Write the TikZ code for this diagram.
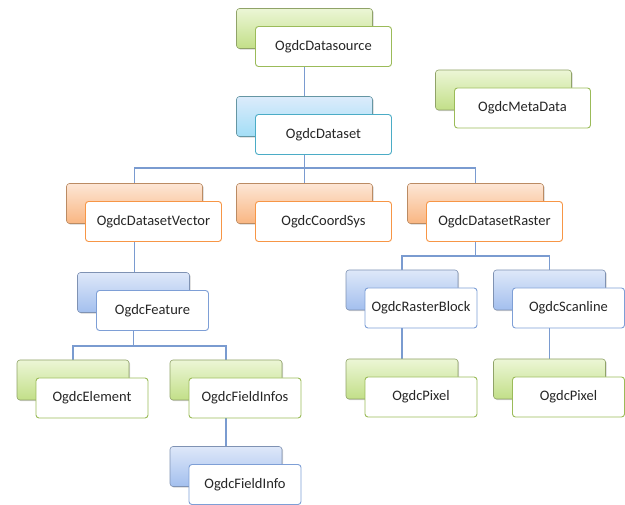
\documentclass[tikz,border=0pt]{standalone}
\usepackage{fontspec}
\setmainfont{Carlito}
\usetikzlibrary{shadows,backgrounds}
\definecolor{grTop}{HTML}{ECF6D6}
\definecolor{grBot}{HTML}{C2DF88}
\definecolor{grLine}{HTML}{9BBB59}
\definecolor{aqTop}{HTML}{DCEBFB}
\definecolor{aqBot}{HTML}{A2DEF6}
\definecolor{aqLine}{HTML}{4BACC6}
\definecolor{blTop}{HTML}{DEE8F9}
\definecolor{blBot}{HTML}{A3BFEE}
\definecolor{blLine}{HTML}{7E9FD6}
\definecolor{orTop}{HTML}{FDE6D5}
\definecolor{orBot}{HTML}{F9B682}
\definecolor{orLine}{HTML}{F79646}
\definecolor{conn}{HTML}{7A9BD0}
\definecolor{txt}{HTML}{262626}
\tikzset{
  x=1pt, y=-1pt,
  box/.style={rectangle, rounded corners=3pt, minimum width=#1, inner sep=0pt},
  big/.style={box=136pt, minimum height=40pt},
  small/.style={box=112pt, minimum height=40pt},
  backbox/.style={draw=gray!70, line width=0.6pt, drop shadow={shadow xshift=1.2pt, shadow yshift=-1.2pt, opacity=0.35}},
  frontbox/.style={fill=white, line width=0.9pt, text=txt, font=\fontsize{14.5}{17}\selectfont},
  green back/.style={backbox, top color=grTop, bottom color=grBot, draw=grLine!60!gray},
  aqua back/.style={backbox, top color=aqTop, bottom color=aqBot, draw=aqLine!50!gray},
  blue back/.style={backbox, top color=blTop, bottom color=blBot, draw=blLine!60!gray},
  orange back/.style={backbox, top color=orTop, bottom color=orBot, draw=orLine!50!gray},
  green front/.style={frontbox, draw=grLine},
  aqua front/.style={frontbox, draw=aqLine},
  blue front/.style={frontbox, draw=blLine},
  orange front/.style={frontbox, draw=orLine},
  link/.style={draw=conn, line width=1.1pt}
}
\begin{document}
\begin{tikzpicture}
\useasboundingbox (0,0) rectangle (625,505);
% back boxes
\node[big, green back]   (srcB)  at (304.5,28.5) {};
\node[big, aqua back]    (setB)  at (304.5,116.5) {};
\node[big, green back]   (metaB) at (503.5,90) {};
\node[big, orange back]  (vecB)  at (134.5,203.5) {};
\node[big, orange back]  (crsB)  at (304.5,203.5) {};
\node[big, orange back]  (rasB)  at (475.5,203.5) {};
\node[small, blue back]  (feaB)  at (133.5,292.5) {};
\node[small, green back] (eleB)  at (73,380) {};
\node[small, green back] (fisB)  at (226,380) {};
\node[small, blue back]  (fiB)   at (226,466.5) {};
\node[small, blue back]  (rbB)   at (402,290) {};
\node[small, blue back]  (slB)   at (549.5,290) {};
\node[small, green back] (px1B)  at (402,379) {};
\node[small, green back] (px2B)  at (549.5,379) {};
% front boxes
\node[big, green front]   (src)  at (323.5,46.5) {OgdcDatasource};
\node[big, aqua front]    (set)  at (323.5,134.5) {OgdcDataset};
\node[big, green front]   (meta) at (522.5,108) {OgdcMetaData};
\node[big, orange front]  (vec)  at (153.5,221.5) {OgdcDatasetVector};
\node[big, orange front]  (crs)  at (323.5,221.5) {OgdcCoordSys};
\node[big, orange front]  (ras)  at (494.5,221.5) {OgdcDatasetRaster};
\node[small, blue front]  (fea)  at (152.5,310.5) {OgdcFeature};
\node[small, green front] (ele)  at (92,398) {OgdcElement};
\node[small, green front] (fis)  at (245,398) {OgdcFieldInfos};
\node[small, blue front]  (fi)   at (245,484.5) {OgdcFieldInfo};
\node[small, blue front]  (rb)   at (421,308) {OgdcRasterBlock};
\node[small, blue front]  (sl)   at (568.5,308) {OgdcScanline};
\node[small, green front] (px1)  at (421,397) {OgdcPixel};
\node[small, green front] (px2)  at (568.5,397) {OgdcPixel};
% connectors
\coordinate (busA) at (0,168);
\coordinate (busB) at (0,346);
\coordinate (busC) at (0,256);
\begin{scope}[on background layer]
  \draw[link] (srcB.center) -- (setB.center);
  \draw[link] (setB.center) -- (setB.center |- busA) -| (vecB.north);
  \draw[link] (setB.center |- busA) -| (rasB.north);
  \draw[link] (setB.center) -- (crsB.north);
  \draw[link] (vecB.center) -- (vecB.center |- feaB.north);
  \draw[link] (feaB.center) -- (feaB.center |- busB) -| (eleB.north);
  \draw[link] (feaB.center |- busB) -| (fisB.north);
  \draw[link] (fisB.center) -- (fiB.north);
  \draw[link] (rasB.center) -- (rasB.center |- busC) -| (rbB.north);
  \draw[link] (rasB.center |- busC) -| (slB.north);
  \draw[link] (rbB.center) -- (px1B.north);
  \draw[link] (slB.center) -- (px2B.north);
\end{scope}
\end{tikzpicture}
\end{document}
